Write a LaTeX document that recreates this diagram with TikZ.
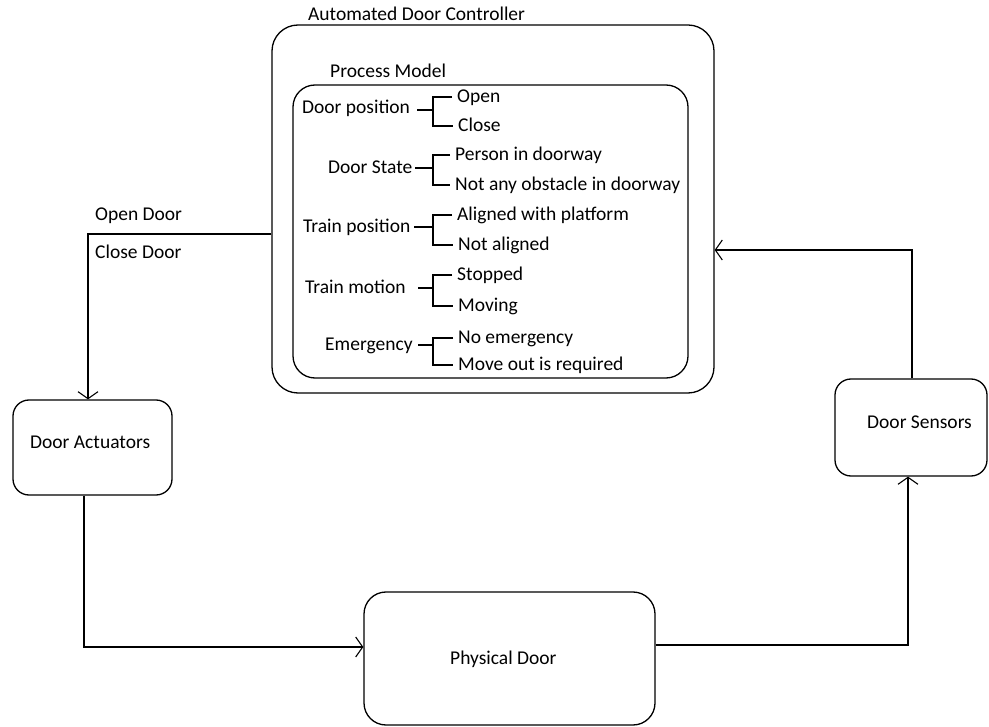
\documentclass[tikz,border=0pt]{standalone}
\usepackage{fontspec}
\setmainfont{Carlito}
\usetikzlibrary{arrows.meta}
\begin{document}
\begin{tikzpicture}[x=1pt,y=-1pt,
  box/.style={draw,line width=1.3pt,rectangle,inner sep=0pt},
  txt/.style={inner sep=0pt,anchor=west,text height=12pt,text depth=0pt,
    font=\fontsize{19.5}{23}\selectfont},
  opt/.style={txt,inner xsep=5pt},
  brk/.style={line width=1.2pt},
  conn/.style={line width=1.2pt,-{Straight Barb[length=7pt,width=20pt,line width=1.1pt]}}]
\useasboundingbox[fill=white] (0,0) rectangle (989,727);

% controller and its process model
\node[box,rounded corners=26pt,minimum width=442pt,minimum height=368pt] (ctrl) at (493,209) {};
\node[txt] (ctrltitle) at (308,15) {Automated Door Controller};
\node[box,rounded corners=22pt,minimum width=395pt,minimum height=293pt] (pm) at (490.5,231.5) {};
\node[txt] (pmtitle) at (330,72) {Process Model};

% process model variables with their values
\node[txt] (v1) at (302,108) {Door position};
\node[opt] (v1a) at (452,97) {Open};
\node[opt] (v1b) at (453,126) {Close};
\coordinate (b1) at (433,110);
\draw[brk] (417,110) -- (b1);
\draw[brk] (v1a.west) -| (b1) |- (v1b.west);

\node[txt] (v2) at (328,168) {Door State};
\node[opt] (v2a) at (450,155) {Person in doorway};
\node[opt] (v2b) at (450,185) {Not any obstacle in doorway};
\coordinate (b2) at (433,168);
\draw[brk] (415,168) -- (b2);
\draw[brk] (v2a.west) -| (b2) |- (v2b.west);

\node[txt] (v3) at (303,227) {Train position};
\node[opt] (v3a) at (452,215) {Aligned with platform};
\node[opt] (v3b) at (453,245) {Not aligned};
\coordinate (b3) at (433,227);
\draw[brk] (414,227) -- (b3);
\draw[brk] (v3a.west) -| (b3) |- (v3b.west);

\node[txt] (v4) at (305,288) {Train motion};
\node[opt] (v4a) at (452,275) {Stopped};
\node[opt] (v4b) at (453,306) {Moving};
\coordinate (b4) at (433,288);
\draw[brk] (418,288) -- (b4);
\draw[brk] (v4a.west) -| (b4) |- (v4b.west);

\node[txt] (v5) at (325,345) {Emergency};
\node[opt] (v5a) at (453,338) {No emergency};
\node[opt] (v5b) at (453,365) {Move out is required};
\coordinate (b5) at (433,345);
\draw[brk] (418,345) -- (b5);
\draw[brk] (v5a.west) -| (b5) |- (v5b.west);

% surrounding components
\node[box,rounded corners=16pt,minimum width=159pt,minimum height=95pt] (act) at (92.5,447.5) {};
\node[txt] (actlbl) at (30,443) {Door Actuators};
\node[box,rounded corners=16pt,minimum width=152pt,minimum height=97pt] (sens) at (911,427.5) {};
\node[txt] (senslbl) at (867,423) {Door Sensors};
\node[box,rounded corners=22pt,minimum width=291pt,minimum height=133pt] (door) at (509.5,658.5) {};
\node[txt] (doorlbl) at (450,658) {Physical Door};

% control loop
\coordinate (c1) at (88,234);
\draw[conn] (ctrl.west |- c1) -| (act.north -| c1);
\node[txt] (cmd1) at (95,215) {Open Door};
\node[txt] (cmd2) at (95,253) {Close Door};

\coordinate (c2) at (84,647);
\draw[conn] (act.south -| c2) |- (door.west |- c2);

\coordinate (c3) at (908,645);
\draw[conn] (door.east |- c3) -| (sens.south -| c3);

\coordinate (c4) at (912,250);
\draw[conn] (sens.north -| c4) |- (ctrl.east |- c4);
\end{tikzpicture}
\end{document}
